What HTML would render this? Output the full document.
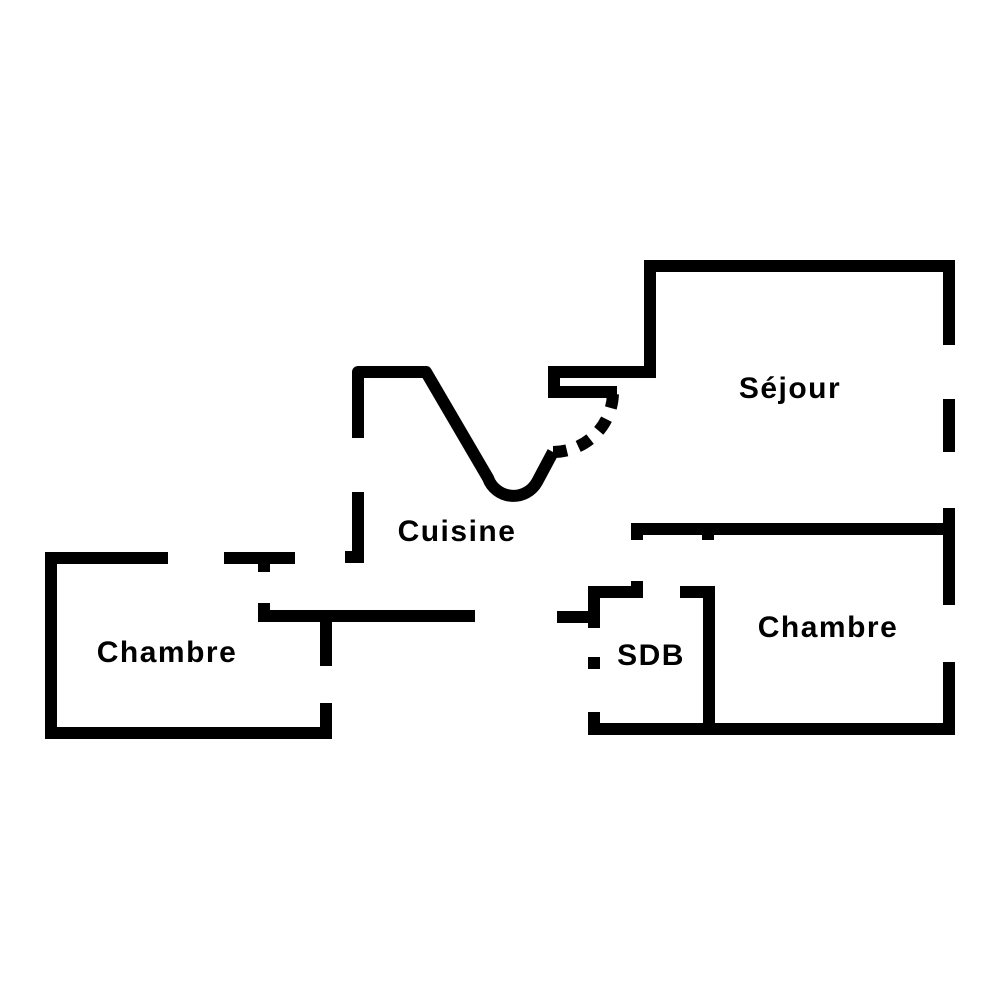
<!DOCTYPE html>
<html><head><meta charset="utf-8"><style>
html,body{margin:0;padding:0;background:#fff;}
svg{display:block;}
text{font-family:"Liberation Sans",sans-serif;font-weight:bold;font-size:30px;letter-spacing:1.5px;fill:#000;}
</style></head><body>
<svg width="1000" height="1000" viewBox="0 0 1000 1000" xmlns="http://www.w3.org/2000/svg">
<g fill="none" stroke="#000" stroke-width="12" stroke-linecap="butt" stroke-linejoin="miter">
<!-- Left chambre -->
<path d="M168,558 H51 V733 H326 V703"/>
<path d="M224,558 H295"/>
<path d="M264,558 V572"/>
<path d="M326,666 V616"/>
<path d="M264,603 V616 H475"/>
<!-- Cuisine -->
<path d="M345,557 H358 V492"/>
<path d="M358,438 V372 H426 L488,478 A27,27 0 0 0 537,482 L553,452" stroke-linejoin="round"/>
<path d="M553,452 A60,60 0 0 0 613,392" stroke-dasharray="14,12"/>
<!-- Séjour -->
<path d="M617,392 H554 V372 H650 V266 H949 V345"/>
<path d="M949,399 V452"/>
<path d="M949,508 V605"/>
<path d="M637,540 V529 H949"/>
<path d="M708,529 V540"/>
<!-- SDB / Chambre -->
<path d="M557,617 H594 V592 H637 V581"/>
<path d="M594,592 V628"/>
<path d="M588,663 H600"/>
<path d="M594,712 V729 H949 V662"/>
<path d="M680,592 H709 V729"/>
</g>
<text x="790" y="398" text-anchor="middle">Séjour</text>
<text x="457" y="541" text-anchor="middle">Cuisine</text>
<text x="167" y="662" text-anchor="middle">Chambre</text>
<text x="651" y="665" text-anchor="middle">SDB</text>
<text x="828" y="637" text-anchor="middle">Chambre</text>
</svg>
</body></html>
